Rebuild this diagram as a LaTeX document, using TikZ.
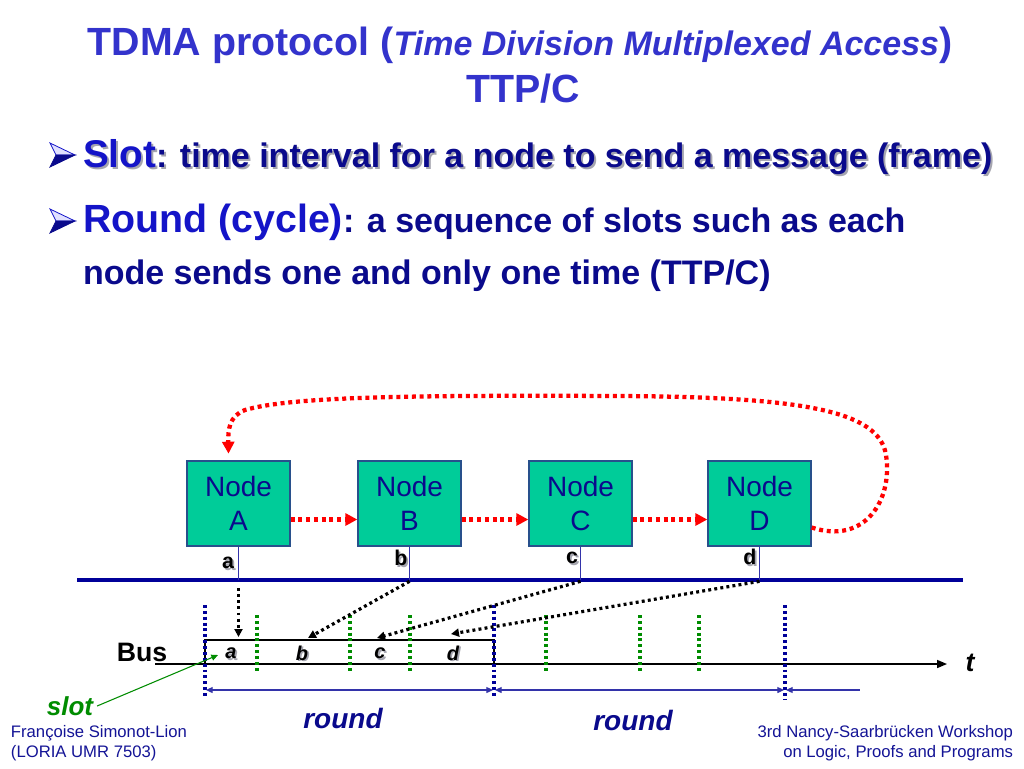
\documentclass[tikz,border=0pt]{standalone}
\usepackage{fontspec}
\setmainfont{Liberation Sans}
\usetikzlibrary{arrows.meta}
\definecolor{titleblue}{RGB}{51,51,204}
\definecolor{brightblue}{RGB}{20,20,200}
\definecolor{navytext}{RGB}{10,10,140}
\definecolor{nodefill}{RGB}{0,204,153}
\definecolor{nodeborder}{RGB}{40,80,140}
\definecolor{dkgreen}{RGB}{0,140,0}
\definecolor{shadowgray}{RGB}{165,165,175}
\definecolor{busblue}{RGB}{0,0,153}
\definecolor{roundblue}{RGB}{51,51,170}
\definecolor{footblue}{RGB}{20,20,150}
\newcommand\slotline[2]{{\color{#1}\fontsize{29}{34}\selectfont Slot}{\color{#2}\fontsize{25.5}{30}\selectfont: time interval for a node to send a message (frame)}}
\newcommand\shnode[4]{\node[#3, text=shadowgray] (#1s) at ([shift={(1.3pt,-1.3pt)}]#2) {#4};
  \node[#3] (#1) at (#2) {#4};}
\newcommand\bulletglyph[1]{%
  \filldraw[fill=blue!12, draw=brightblue, line width=0.6pt] (50,143+#1) -- (75,155+#1) -- (56,155+#1) -- cycle;
  \filldraw[fill=navytext, draw=navytext, line width=0.6pt] (56,155+#1) -- (75,155+#1) -- (50,167+#1) -- cycle;}
\begin{document}
\begin{tikzpicture}[x=0.75pt,y=-0.75pt,
  box/.style={draw=nodeborder, line width=1pt, fill=nodefill, minimum width=77.25pt, minimum height=63.75pt, inner sep=0pt, align=center, text=navytext, font=\fontsize{21}{25.5}\selectfont},
  redarrow/.style={red, line width=3.2pt, dash pattern=on 3pt off 2.8pt, -{Triangle[length=9pt,width=9pt]}},
  blkarrow/.style={black, line width=2.4pt, dash pattern=on 2.2pt off 2.4pt, -{Triangle[length=6pt,width=6pt]}},
  pin/.style={roundblue, line width=0.8pt},
  pinlabel/.style={font=\fontsize{16}{19}\selectfont\bfseries, text=black, inner sep=0pt},
  slotlabel/.style={font=\fontsize{15}{18}\selectfont\bfseries\itshape, text=black, inner sep=0pt},
  greendot/.style={dkgreen, line width=2.5pt, dash pattern=on 2.2pt off 2.2pt},
  bluedot/.style={busblue, line width=2.5pt, dash pattern=on 2.2pt off 2.2pt},
  roundarr/.style={roundblue, line width=0.9pt},
  roundlabel/.style={font=\fontsize{21}{25}\selectfont\bfseries\itshape, text=navytext, inner sep=0pt},
  plain/.style={inner sep=0pt, outer sep=0pt}
]
\useasboundingbox[fill=white] (0,0) rectangle (1024,768);

% Title
\node[plain, anchor=base, text=titleblue, font=\bfseries] (title) at (520,55)
  {\fontsize{29.5}{34}\selectfont TDMA protocol (\fontsize{25.5}{30}\selectfont\itshape Time Division Multiplexed Access\/\fontsize{29.5}{34}\selectfont\upshape)};
\node[plain, anchor=base, text=titleblue, font=\bfseries\fontsize{29.5}{34}\selectfont] (title2) at (523,102) {TTP/C};

% Bullets
\bulletglyph{0}
\bulletglyph{66}
\node[plain, anchor=base west, font=\bfseries] (b1s) at ([shift={(1.5pt,-1.5pt)}]83,167) {\slotline{shadowgray}{shadowgray}};
\node[plain, anchor=base west, font=\bfseries] (b1) at (83,167) {\slotline{brightblue}{navytext}};
\node[plain, anchor=base west, font=\bfseries] (b2) at (83,232)
  {{\color{brightblue}\fontsize{29.5}{34}\selectfont Round (cycle)}{\color{navytext}\fontsize{25.5}{30}\selectfont: a sequence of slots such as each}};
\node[plain, anchor=base west, font=\bfseries\fontsize{25.5}{30}\selectfont, text=navytext] (b3) at (83,284)
  {node sends one and only one time (TTP/C)};

% Nodes
\node[box] (A) at (238.5,503.5) {Node\\A};
\node[box] (B) at (409.5,503.5) {Node\\B};
\node[box] (C) at (580.5,503.5) {Node\\C};
\node[box] (D) at (759.5,503.5) {Node\\D};

\draw[redarrow] ([yshift=-12pt]A.east) -- ([yshift=-12pt]B.west);
\draw[redarrow] ([yshift=-12pt]B.east) -- ([yshift=-12pt]C.west);
\draw[redarrow] ([yshift=-12pt]C.east) -- ([yshift=-12pt]D.west);
\draw[redarrow] ([yshift=-18pt]D.east) .. controls (865,545) and (893,500) .. (886,455)
  .. controls (879,410) and (800,397) .. (620,396)
  .. controls (400,395) and (290,397) .. (245,410)
  .. controls (229,416) and (228,430) .. ([xshift=-7.5pt,yshift=5pt]A.north);

% Bus
\coordinate (busL) at (77,580);
\coordinate (busR) at (963,580);
\draw[busblue, line width=3pt] (busL) -- (busR);
\draw[pin] (A.south) -- (A.south |- busL) coordinate (pa);
\draw[pin] (B.south) -- (B.south |- busL) coordinate (pb);
\draw[pin] (C.south) -- (C.south |- busL) coordinate (pc);
\draw[pin] (D.south) -- (D.south |- busL) coordinate (pd);
\shnode{la}{228,563}{pinlabel}{a}
\shnode{lb}{401,558}{pinlabel}{b}
\shnode{lc}{572,558}{pinlabel}{c}
\shnode{ld}{750,557}{pinlabel}{d}

% slot frame and time axis
\coordinate (ta) at (238.5,637);
\coordinate (tb) at (308,638);
\coordinate (tc) at (377,638);
\coordinate (td) at (451,634);
\coordinate (axL) at (155,664);
\coordinate (axR) at (947,664);
\draw[black, line width=1.2pt, -{Triangle[length=7.5pt,width=6pt]}] (axL) -- (axR);
\draw[black, line width=1.6pt] (205,640) rectangle (494,664);

\foreach \x in {257,350,410,546,640,699} \draw[greendot] (\x,615) -- (\x,673);
\foreach \x in {205,494} \draw[bluedot] (\x,605) -- (\x,697);
\draw[bluedot] (785,605) -- (785,700);

\draw[blkarrow] ([yshift=-6pt]pa) -- (ta);
\draw[blkarrow] ([yshift=-1pt]pb) -- (tb);
\draw[blkarrow] ([yshift=-1pt]pc) -- (tc);
\draw[blkarrow] ([yshift=-1pt]pd) -- (td);

\shnode{sa}{231,653}{slotlabel}{a}
\shnode{sb}{302,653}{slotlabel}{b}
\shnode{sc}{380,653}{slotlabel}{c}
\shnode{sd}{453,653}{slotlabel}{d}

\node[plain, font=\fontsize{20}{24}\selectfont\bfseries] (bus) at (142,652) {Bus};
\node[plain, font=\fontsize{20}{24}\selectfont\bfseries\itshape] (tlab) at (970,663) {t};

% rounds
\draw[roundarr, {Triangle[length=5pt,width=4.5pt]}-{Triangle[length=5pt,width=4.5pt]}] (206,690) -- (493,690);
\draw[roundarr, {Triangle[length=5pt,width=4.5pt]}-{Triangle[length=5pt,width=4.5pt]}] (495,690) -- (784,690);
\draw[roundarr, {Triangle[length=5pt,width=4.5pt]}-] (786,690) -- (860,690);
\node[roundlabel] (r1) at (343,718) {round};
\node[roundlabel] (r2) at (633,720) {round};

% slot label
\node[plain, font=\fontsize{19.5}{23}\selectfont\bfseries\itshape, text=dkgreen] (slot) at (70,706) {slot};
\coordinate (slottip) at (218,655);
\draw[dkgreen, line width=0.8pt, -{Triangle[length=5pt,width=4.5pt]}] ([xshift=3pt]slot.east) -- (slottip);

% footers
\node[plain, anchor=west, align=left, text=footblue, font=\fontsize{12.5}{15}\selectfont] (footL) at (11,743)
  {Françoise Simonot-Lion\\(LORIA UMR 7503)};
\node[plain, anchor=east, align=right, text=footblue, font=\fontsize{12.5}{15}\selectfont] (footR) at (1013,743)
  {3rd Nancy-Saarbrücken Workshop\\on Logic, Proofs and Programs};
\end{tikzpicture}
\end{document}
